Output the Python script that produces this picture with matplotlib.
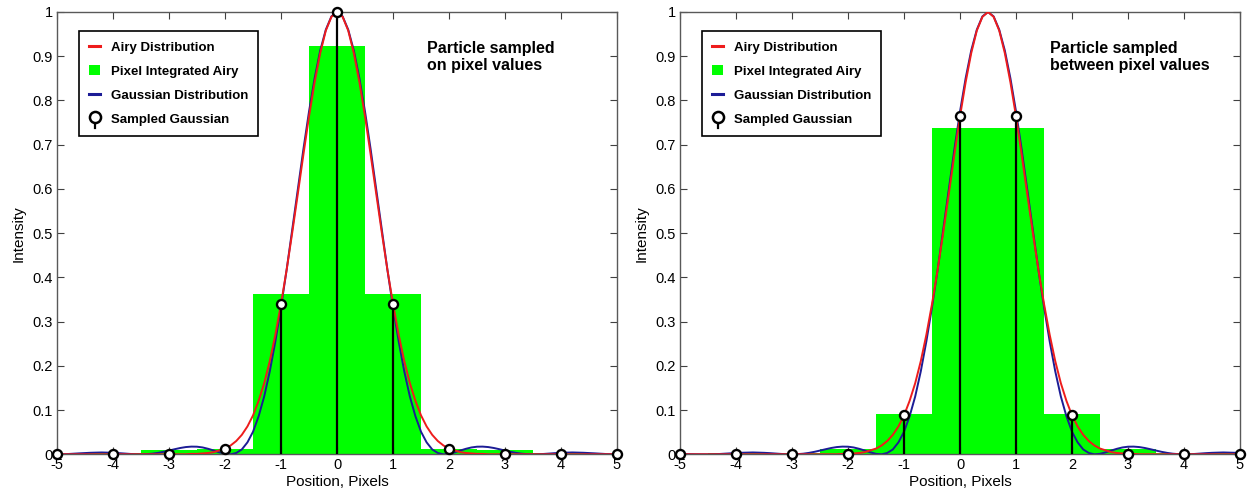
import numpy as np
import matplotlib
matplotlib.use('Agg')
import matplotlib.pyplot as plt
from matplotlib.lines import Line2D
from matplotlib.patches import Patch
from matplotlib.legend_handler import HandlerBase

plt.rcParams['font.family'] = ['Liberation Sans', 'DejaVu Sans']
plt.rcParams['axes.unicode_minus'] = False

# pixel positions
pixels = [-5, -4, -3, -2, -1, 0, 1, 2, 3, 4, 5]

# radial profiles (distance from particle centre, in pixels)
radius = [0.0, 0.1, 0.2, 0.3, 0.4, 0.5, 0.6, 0.7, 0.8, 0.9,
          1.0, 1.1, 1.2, 1.3, 1.4, 1.5, 1.6, 1.7, 1.8, 1.9,
          2.0, 2.1, 2.2, 2.3, 2.4, 2.5, 2.6, 2.7, 2.8, 2.9,
          3.0, 3.1, 3.2, 3.3, 3.4, 3.5, 3.6, 3.7, 3.8, 3.9,
          4.0, 4.2, 4.4, 4.6, 4.8, 5.0, 5.2, 5.4, 5.6]
# red curve
red_profile = [1.000, 0.989, 0.958, 0.907, 0.841, 0.764, 0.678, 0.589, 0.501, 0.417,
               0.340, 0.271, 0.211, 0.161, 0.121, 0.088, 0.063, 0.044, 0.030, 0.020,
               0.013, 0.009, 0.005, 0.003, 0.002, 0.001, 0.001, 0.0, 0.0, 0.0,
               0.0, 0.0, 0.0, 0.0, 0.0, 0.0, 0.0, 0.0, 0.0, 0.0,
               0.0, 0.0, 0.0, 0.0, 0.0, 0.0, 0.0, 0.0, 0.0]
# blue curve (with side lobes)
blue_profile = [1.000, 0.990, 0.960, 0.913, 0.850, 0.775, 0.690, 0.599, 0.508, 0.417,
                0.333, 0.256, 0.188, 0.131, 0.086, 0.051, 0.027, 0.011, 0.003, 0.000,
                0.0011, 0.0044, 0.0085, 0.0124, 0.0155, 0.0172, 0.0174, 0.0164, 0.0143, 0.0115,
                0.0085, 0.0056, 0.0032, 0.0014, 0.0004, 0.0, 0.0002, 0.0009, 0.0018, 0.0027,
                0.0034, 0.0042, 0.0035, 0.0022, 0.0007, 0.0001, 0.0002, 0.0007, 0.0010]

centres = [0.0, 0.5]
pixel_airy_left = [0.001, 0.0025, 0.0087, 0.0117, 0.362, 0.923, 0.362, 0.0117, 0.0087, 0.0025, 0.001]
pixel_airy_right = [0.0005, 0.0025, 0.0022, 0.012, 0.092, 0.737, 0.737, 0.092, 0.012, 0.0022, 0.0025]
sampled_left = [0.0, 0.0, 0.0001, 0.013, 0.340, 1.000, 0.340, 0.013, 0.0001, 0.0, 0.0]
sampled_right = [0.0, 0.0, 0.0, 0.0012, 0.088, 0.764, 0.764, 0.088, 0.0012, 0.0, 0.0]
notes = ["Particle sampled\non pixel values", "Particle sampled\nbetween pixel values"]

RED = '#ee1c1c'
BLUE = '#1c1c96'
GREEN = '#00ff00'


def full_curve(c, r, p):
    r = np.array(r)
    p = np.array(p)
    x = np.concatenate([c - r[::-1], c + r[1:]])
    y = np.concatenate([p[::-1], p[1:]])
    return x, y


class StemHandler(HandlerBase):
    def create_artists(self, legend, orig_handle, xdescent, ydescent,
                       width, height, fontsize, trans):
        cx = 0.5 * width - xdescent
        stem = Line2D([cx, cx], [-ydescent - 0.45 * height, 0.6 * height - ydescent],
                      color='black', lw=1.6, transform=trans)
        head = Line2D([cx], [0.6 * height - ydescent], marker='o', ms=8,
                      mfc='white', mec='black', mew=1.8, transform=trans)
        return [stem, head]


fig = plt.figure(figsize=(12.48, 4.95), dpi=100)
positions = [[0.0457, 0.0822, 0.4487, 0.8936], [0.5449, 0.0822, 0.4487, 0.8936]]
bars = [pixel_airy_left, pixel_airy_right]
samples = [sampled_left, sampled_right]

for i in range(2):
    ax = fig.add_axes(positions[i])
    ax.bar(pixels, bars[i], width=1.0, color=GREEN, linewidth=0, zorder=1)
    xb, yb = full_curve(centres[i], radius, blue_profile)
    ax.plot(xb, yb, color=BLUE, lw=1.4, zorder=2)
    xr, yr = full_curve(centres[i], radius, red_profile)
    ax.plot(xr, yr, color=RED, lw=1.4, zorder=3)
    ax.vlines(pixels, 0, samples[i], color='black', lw=1.6, zorder=4)
    ax.plot(pixels, samples[i], 'o', ms=6.5, mfc='white', mec='black', mew=1.7,
            zorder=5, clip_on=False)

    ax.set_xlim(-5, 5)
    ax.set_ylim(0, 1)
    ax.set_xticks(pixels)
    ax.set_yticks([0, 0.1, 0.2, 0.3, 0.4, 0.5, 0.6, 0.7, 0.8, 0.9, 1])
    ax.set_xticklabels([str(p) for p in pixels])
    ax.set_yticklabels(['0', '0.1', '0.2', '0.3', '0.4', '0.5', '0.6', '0.7', '0.8', '0.9', '1'])
    ax.tick_params(direction='in', top=True, right=True, length=5, width=0.8,
                   labelsize=10.5, pad=3, colors='0.25', labelcolor='black')
    for s in ax.spines.values():
        s.set_color('0.35')
        s.set_linewidth(1.0)
    ax.set_xlabel('Position, Pixels', fontsize=11, labelpad=2)
    ax.set_ylabel('Intensity', fontsize=11, labelpad=5)

    ax.text(1.6, 0.935, notes[i], fontsize=11.5, fontweight='bold',
            ha='left', va='top', linespacing=1.15)

    stem_proxy = Line2D([], [], color='black')
    handles = [Line2D([], [], color=RED, lw=2.2),
               Patch(facecolor=GREEN, edgecolor='none'),
               Line2D([], [], color=BLUE, lw=2.2),
               stem_proxy]
    labels = ['Airy Distribution', 'Pixel Integrated Airy',
              'Gaussian Distribution', 'Sampled Gaussian']
    leg = ax.legend(handles, labels, loc='upper left', bbox_to_anchor=(0.039, 0.957),
                    borderaxespad=0, fancybox=False, framealpha=1, edgecolor='black',
                    prop={'weight': 'bold', 'size': 9.5}, handlelength=0.8,
                    handleheight=0.8, handletextpad=0.8, borderpad=0.8,
                    labelspacing=0.85, handler_map={stem_proxy: StemHandler()})
    leg.get_frame().set_linewidth(1.2)
    leg.set_zorder(10)

plt.savefig('out.png', dpi=100)
